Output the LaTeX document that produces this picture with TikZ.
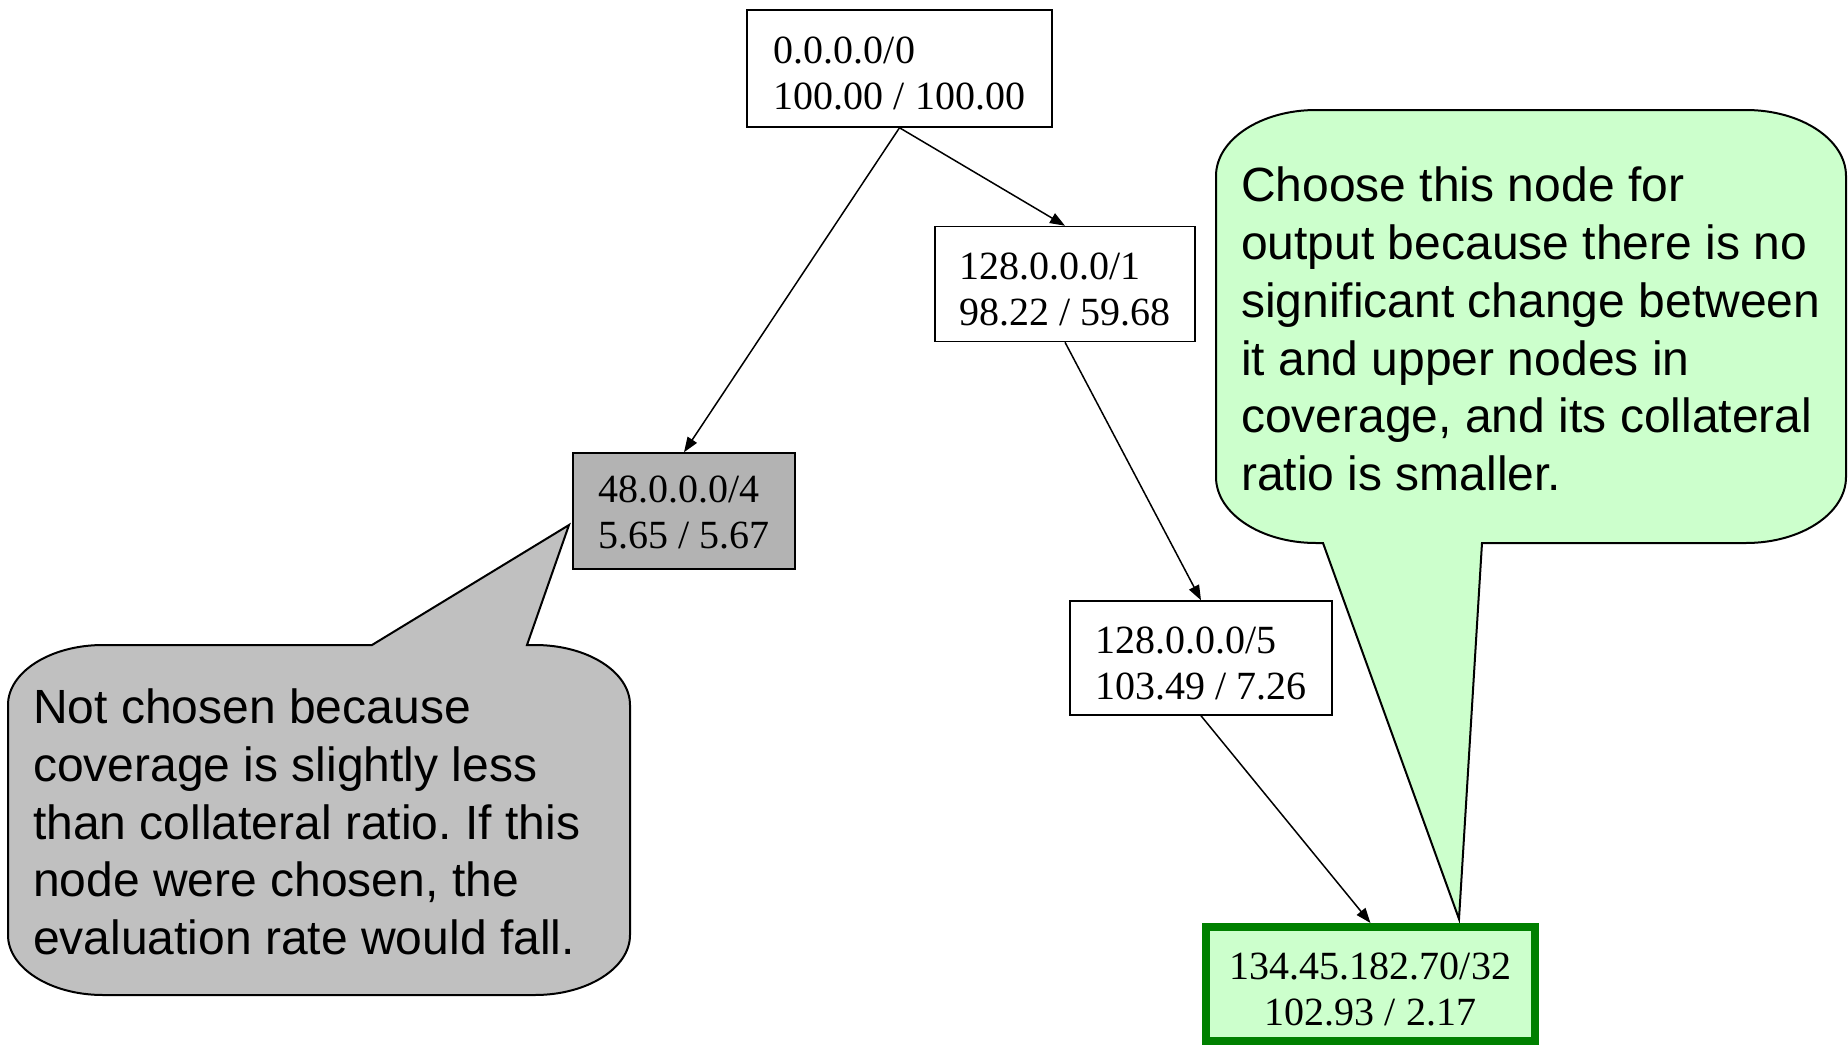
\documentclass[tikz,border=0pt]{standalone}
\usepackage{fontspec}
\setmainfont{Liberation Serif}
\newfontfamily\calloutfont{Liberation Sans}
\usetikzlibrary{arrows.meta}
\frenchspacing
\definecolor{lightgreenfill}{HTML}{CCFFCC}
\definecolor{darkgreenline}{HTML}{008000}
\definecolor{calloutgray}{HTML}{C0C0C0}
\definecolor{boxgray}{HTML}{B3B3B3}
\newcommand{\boxstrut}{\rule{0pt}{37pt}}
\newcommand{\smallboxstrut}{\rule{0pt}{30pt}}
\tikzset{
  treebox/.style={draw=black, line width=1.5pt, inner sep=0pt, align=left,
    font=\fontsize{40}{46}\selectfont},
  chosenbox/.style={draw=darkgreenline, line width=8pt, fill=lightgreenfill, inner sep=0pt,
    align=center, font=\fontsize{40}{46}\selectfont},
  treearrow/.style={line width=1.5pt, -{Triangle[length=15pt,width=11pt]}},
  calloutshape/.style={draw=black, line width=2pt, line join=miter},
  callouttext/.style={inner sep=0pt, align=left, anchor=west,
    font=\calloutfont\fontsize{48}{57.7}\selectfont}
}
\begin{document}
\begin{tikzpicture}[x=1pt,y=-1pt]
\useasboundingbox (0,0) rectangle (1848,1049);

% callouts (shapes)
\path[calloutshape, fill=calloutgray]
  (103,645) -- (372,645) -- (569,525) -- (527,645) -- (535,645)
  .. controls (587.4,645) and (630,671.9) .. (630,705)
  -- (630,935)
  .. controls (630,968.1) and (587.4,995) .. (535,995)
  -- (103,995)
  .. controls (50.6,995) and (8,968.1) .. (8,935)
  -- (8,705)
  .. controls (8,671.9) and (50.6,645) .. (103,645) -- cycle;

\path[calloutshape, fill=lightgreenfill]
  (1316,110) -- (1746,110)
  .. controls (1801.2,110) and (1846,139.6) .. (1846,176)
  -- (1846,477)
  .. controls (1846,513.4) and (1801.2,543) .. (1746,543)
  -- (1482,543) -- (1459,919) -- (1323,543) -- (1316,543)
  .. controls (1260.8,543) and (1216,513.4) .. (1216,477)
  -- (1216,176)
  .. controls (1216,139.6) and (1260.8,110) .. (1316,110) -- cycle;

\node[callouttext] (graytext) at (33,822) {Not chosen because\\coverage is slightly less\\than collateral ratio. If this\\node were chosen, the\\evaluation rate would fall.};
\node[callouttext] (greentext) at (1241,329) {Choose this node for\\output because there is no\\significant change between\\it and upper nodes in\\coverage, and its collateral\\ratio is smaller.};

% tree nodes
\node[treebox, minimum width=305pt, minimum height=117pt] (n0) at (899.5,68.5) {\boxstrut 0.0.0.0/0\\100.00 / 100.00};
\node[treebox, minimum width=260pt, minimum height=115pt] (n1) at (1065,284) {\boxstrut 128.0.0.0/1\\98.22 / 59.68};
\node[treebox, fill=boxgray, minimum width=222pt, minimum height=116pt] (n2) at (684,511) {\smallboxstrut 48.0.0.0/4\\5.65 / 5.67};
\node[treebox, minimum width=262pt, minimum height=114pt] (n3) at (1201,658) {\boxstrut 128.0.0.0/5\\103.49 / 7.26};
\node[chosenbox, minimum width=329pt, minimum height=114pt] (n4) at (1370.5,984) {\boxstrut 134.45.182.70/32\\102.93 / 2.17};

% connectors
\draw[treearrow] (n0.south) -- (n2.north);
\draw[treearrow] (n0.south) -- (n1.north);
\draw[treearrow] (n1.south) -- (n3.north);
\draw[treearrow] (n3.south) -- (n4.north);
\end{tikzpicture}
\end{document}
